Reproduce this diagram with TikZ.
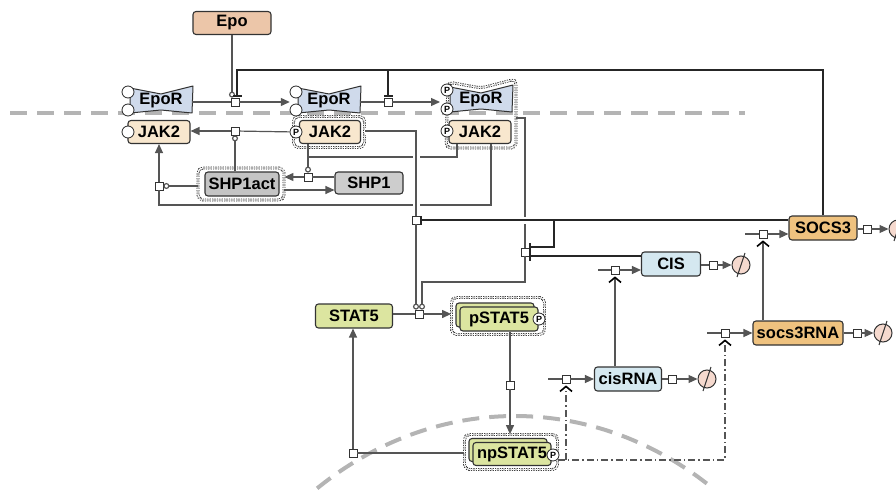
\documentclass[tikz,border=0pt]{standalone}
\usepackage{fontspec}
\setmainfont{Liberation Sans}
\usetikzlibrary{arrows.meta,calc}

\definecolor{epoC}{HTML}{ECC6A9}
\definecolor{recC}{HTML}{CFDAEB}
\definecolor{jakC}{HTML}{F8E7CE}
\definecolor{shpC}{HTML}{C4C4C4}
\definecolor{statC}{HTML}{DCE5A0}
\definecolor{socsC}{HTML}{EFC27F}
\definecolor{cisC}{HTML}{D5E8F0}
\definecolor{nilC}{HTML}{F5D9CE}
\definecolor{lnC}{HTML}{555555}
\definecolor{memC}{HTML}{B4B4B4}

\tikzset{
  ent/.style={draw=black!80, line width=1.1pt, rounded corners=3pt, inner sep=0pt, minimum height=24pt},
  recep/.style={draw=black!80, fill=recC, line width=1pt, line join=round},
  sv/.style={circle, draw=black!85, fill=white, line width=0.8pt, minimum size=12pt, inner sep=0pt, font=\fontsize{9}{9}\selectfont\bfseries},
  cpx/.style={draw=black!85, line width=0.8pt, double=white, double distance=1.3pt, dash pattern=on 1.2pt off 1.2pt, rounded corners=5pt},
  proc/.style={draw=black!80, fill=white, line width=0.8pt, minimum size=8pt, inner sep=0pt},
  nil/.style={circle, draw=black!80, fill=nilC, line width=1pt, minimum size=18pt, inner sep=0pt},
  memb/.style={draw=memC, line width=4pt, dash pattern=on 17pt off 10pt},
  conv/.style={draw=lnC, line width=1.2pt},
  prod/.style={conv, -{Triangle[length=9pt, width=8pt]}},
  catal/.style={conv, -{Circle[length=6pt, fill=white]}},
  inhib/.style={draw=black!85, line width=1.3pt, -{Bar[width=9pt]}},
  trig/.style={draw=lnC, line width=1.2pt, shorten >=2pt, -{Straight Barb[length=5pt, width=12pt, line width=1.6pt, black]}},
  jump/.style={preaction={draw=white, line width=7pt, arrows=-}}
}

\begin{document}
\begin{tikzpicture}[x=1pt, y=-1pt, font=\fontsize{16.5}{18}\selectfont\bfseries]
\useasboundingbox (0,0) rectangle (896,492);

% --- Membranes ---
\draw[memb] (10,113) -- (745,113);
\draw[memb] plot[domain=125:55, samples=50, smooth] ({515+345*cos(\x)},{816-400*sin(\x)});

% --- Complex outlines ---
\draw[cpx] (448,82) -- (481,88) -- (516,79) -- (516,148) -- (446,148) -- cycle;
\coordinate (e3cx) at (516,118);
\node[cpx, minimum width=71pt, minimum height=31pt] (jak2cx) at (329,132) {};
\node[cpx, minimum width=86pt, minimum height=32pt] (shpcx) at (241,184) {};
\node[cpx, minimum width=93pt, minimum height=37pt] (pstatcx) at (498,316) {};
\node[cpx, minimum width=93pt, minimum height=35pt] (npstatcx) at (511,452) {};

% --- Receptors ---
\foreach \cx/\cy in {161/101, 329/101, 481/100}
  \filldraw[recep] (\cx,\cy) ++(-31,-13) -- ++(31,6) -- ++(32,-8) -- ++(-1,27) -- ++(-31,-3) -- ++(-31,3) -- cycle;
\node[minimum width=62pt, minimum height=26pt, inner sep=0pt] (epor1) at (161,101) {EpoR};
\node[minimum width=62pt, minimum height=26pt, inner sep=0pt] (epor2) at (329,101) {EpoR};
\node[minimum width=62pt, minimum height=26pt, inner sep=0pt] (epor3) at (481,100) {EpoR};
\node[sv] (r1a) at (128,92) {};
\node[sv] (r1b) at (128,110) {};
\node[sv] (r2a) at (296,92) {};
\node[sv] (r2b) at (296,110) {};
\node[sv] (r3a) at (447,90) {P};
\node[sv] (r3b) at (447,109) {P};

% --- Species ---
\node[ent, fill=epoC, minimum width=78pt, minimum height=23pt] (epo) at (232,23) {Epo};
\node[ent, fill=jakC, minimum width=62pt, minimum height=23pt] (jak1) at (159,132) {JAK2};
\node[ent, fill=jakC, minimum width=61pt, minimum height=23pt] (jak2) at (330,132) {JAK2};
\node[ent, fill=jakC, minimum width=62pt, minimum height=23pt] (jak3) at (480,132) {JAK2};
\node[sv] (j1s) at (128,132) {};
\node[sv] (j2s) at (296,132) {P};
\node[sv] (j3s) at (447,131) {P};
\node[ent, fill=shpC, minimum width=74pt] (shpact) at (242,184) {SHP1act};
\node[ent, fill=shpC!85, minimum width=68pt, minimum height=22pt] (shp) at (369,183) {SHP1};
\node[ent, fill=statC, minimum width=77pt] (stat) at (354,316) {STAT5};
\node[ent, fill=statC, minimum width=78pt] (pstatb) at (495,315) {};
\node[ent, fill=statC, minimum width=78pt] (pstat) at (499,319) {pSTAT5};
\node[sv] (pstats) at (539,319) {P};
\node[ent, fill=statC, minimum width=78pt, minimum height=23pt] (npstatb) at (508,450) {};
\node[ent, fill=statC, minimum width=78pt, minimum height=23pt] (npstat) at (512,454) {npSTAT5};
\node[sv] (npstats) at (553,455) {P};
\node[ent, fill=socsC, minimum width=68pt] (socs) at (823,228) {SOCS3};
\node[ent, fill=cisC, minimum width=59pt] (cis) at (671,264) {CIS};
\node[ent, fill=socsC, minimum width=90pt] (socsrna) at (798,333) {socs3RNA};
\node[ent, fill=cisC, minimum width=67pt] (cisrna) at (628,379) {cisRNA};

% --- Process nodes and sinks ---
\foreach \n/\x/\y in {p1/235/102, p2/388/102, p3/235/131, p4/308/177, p5/159/186,
    pi1/416/220, pi2/525/252, p6/419/314, p7/510/385, p8/353/453,
    pc/615/270, pcd/713/265, ps/763/234, psd/867/229,
    pr/725/333, prd/857/333, pcr/566/379, pcrd/672/379}
  \node[proc] (\n) at (\x,\y) {};
\foreach \n/\x/\y in {d1/741/265, d2/707/379, d3/883/333, d4/898/229}
  \node[nil] (\n) at (\x,\y) {};
\foreach \n in {d1,d2,d3,d4}
  \draw[line width=1pt, black!80] ([shift={(-4,12)}]\n.center) -- ([shift={(4,-12)}]\n.center);

% --- Free ends and corners ---
\coordinate (topL) at (237,70);
\coordinate (j3a) at (457,157);
\coordinate (j3b) at (491,205);
\coordinate (c1) at (416,131);
\coordinate (c2) at (525,118);
\coordinate (c3) at (525,282);
\coordinate (c4) at (554,220);
\coordinate (e3in) at (440,102);
\coordinate (cin) at (598,270);
\coordinate (sin) at (745,234);
\coordinate (rin) at (707,333);
\coordinate (crin) at (548,379);
\coordinate (t1) at (566,460);
\coordinate (t2) at (725,460);

% --- EpoR activation ---
\draw[conv] (epor1.east |- p1) -- (p1);
\draw[prod] (p1) -- ([xshift=-8pt]epor2.west |- p1);
\draw[catal] (epo.south) -- (epo.south |- p1.north);
\draw[conv] (epor2.east |- p2) -- (p2);
\draw[prod] (p2) -- (e3in);

% --- JAK2 and SHP1 ---
\draw[conv] (j2s) -- (p3);
\draw[prod] (p3) -- (jak1.east |- p3);
\draw[catal] (p3 |- shpact.north) -- (p3.south);
\draw[conv] (shp.west |- p4) -- (p4);
\draw[prod] (p4) -- (shpcx.east |- p4);
\draw[prod] ([yshift=-6pt]shpcx.east) -- ([yshift=-6pt]shpcx.east -| shp.west);
\draw[catal] (p4 |- jak2.south) -- (p4.north);
\draw[conv] (j3a |- jak3.south) -- (j3a) -- (j3a -| p4);
\draw[prod] (p5) -- (jak1.south -| p5);
\draw[catal] (shpcx.west |- p5) -- (p5.east);
\draw[conv] (j3b |- jak3.south) -- (j3b) -| (p5.south);

% --- STAT5 cycle ---
\draw[conv, jump] (jak2cx.east |- c1) -- (c1) -- (pi1);
\draw[catal] (pi1) -- ([xshift=-3pt]p6.north);
\draw[conv] (e3cx) -- (c2) -- (pi2);
\draw[catal] (pi2) -- (c3) -| ([xshift=3pt]p6.north);
\draw[conv] (stat.east |- p6) -- (p6);
\draw[prod] (p6) -- (pstatcx.west |- p6);
\draw[conv] (pstat.south -| p7) -- (p7);
\draw[prod] (p7) -- (npstatcx.north -| p7);
\draw[conv] (npstatcx.west |- p8) -- (p8);
\draw[prod] (p8) -- (stat.south -| p8);

% --- Feedback by SOCS3 and CIS ---
\draw[inhib] (socs.north) |- (topL) -- ([yshift=1pt]topL |- p1.north);
\draw[inhib] (topL -| p2) -- ([yshift=1pt]p2.north);
\draw[inhib, jump] (socs.west |- pi1) -- (pi1.east);
\draw[inhib] (c4) |- ([yshift=5pt]pi2.east);
\draw[inhib] ([yshift=-4pt]pi2.east -| cis.west) -- ([yshift=-4pt]pi2.east);

% --- Transcription and translation ---
\draw[conv] (cin) -- (pc);
\draw[prod] (pc) -- (cis.west |- pc);
\draw[conv] (cis.east |- pcd) -- (pcd);
\draw[prod] (pcd) -- (d1);
\draw[trig] (cisrna.north -| pc) -- (pc.south);
\draw[conv] (sin) -- (ps);
\draw[prod] (ps) -- (socs.west |- ps);
\draw[conv] (socs.east |- psd) -- (psd);
\draw[prod] (psd) -- (d4);
\draw[trig] (socsrna.north -| ps) -- (ps.south);
\draw[conv] (rin) -- (pr);
\draw[prod] (pr) -- (socsrna.west);
\draw[conv] (socsrna.east) -- (prd);
\draw[prod] (prd) -- (d3);
\draw[conv] (crin) -- (pcr);
\draw[prod] (pcr) -- (cisrna.west);
\draw[conv] (cisrna.east) -- (pcrd);
\draw[prod] (pcrd) -- (d2);
\draw[trig, dash pattern=on 7pt off 3pt on 1.5pt off 3pt] (npstatcx.east |- t1) -- (t2) -- (pr.south);
\draw[trig, dash pattern=on 7pt off 3pt on 1.5pt off 3pt] (t1) -- (pcr.south);

\end{tikzpicture}
\end{document}
